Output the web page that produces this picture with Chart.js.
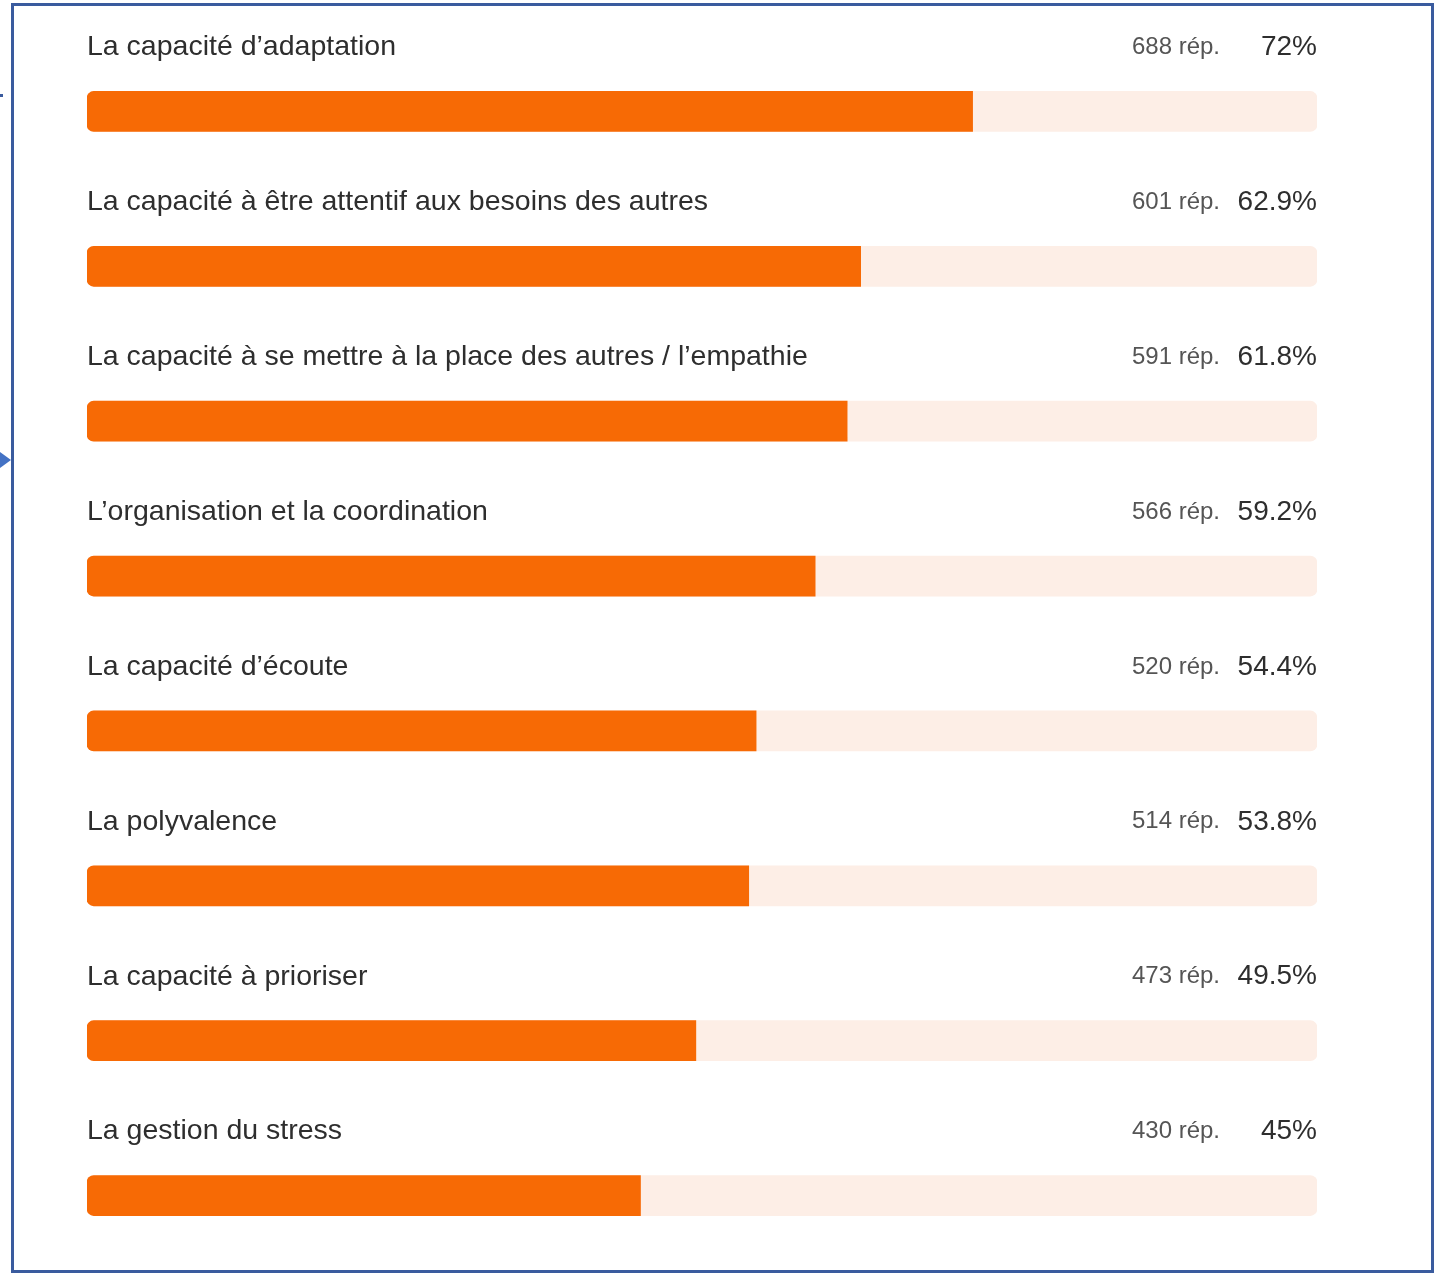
<!DOCTYPE html>
<html>
<head>
<meta charset="utf-8">
<script src="https://cdn.jsdelivr.net/npm/chart.js@4"></script>
<style>
  html, body { margin: 0; padding: 0; background: #fff; }
  body { width: 1434px; height: 1273px; position: relative; overflow: hidden; }
  #wrap { position: absolute; left: 0; top: 0; width: 1434px; height: 1273px; }
  #frame {
    position: absolute; left: 11px; top: 3px; width: 1417px; height: 1264px;
    border: 3px solid #3a5b9e; pointer-events: none;
  }
  #arrow {
    position: absolute; left: 0; top: 452px; width: 0; height: 0;
    border-top: 8px solid transparent; border-bottom: 8px solid transparent;
    border-left: 11px solid #4472c4;
  }
  #tick { position: absolute; left: 0; top: 94px; width: 3px; height: 3px; background: #3a5b9e; }
</style>
</head>
<body>
<div id="wrap"><canvas id="skills"></canvas></div>
<div id="frame"></div>
<div id="arrow"></div>
<div id="tick"></div>
<script>

const categories = [
  "La capacité d’adaptation",
  "La capacité à être attentif aux besoins des autres",
  "La capacité à se mettre à la place des autres / l’empathie",
  "L’organisation et la coordination",
  "La capacité d’écoute",
  "La polyvalence",
  "La capacité à prioriser",
  "La gestion du stress"
];
const responses = [688, 601, 591, 566, 520, 514, 473, 430];
const percents = [72, 62.9, 61.8, 59.2, 54.4, 53.8, 49.5, 45];
const trackValues = [100, 100, 100, 100, 100, 100, 100, 100];
const percentLabels = ["72%", "62.9%", "61.8%", "59.2%", "54.4%", "53.8%", "49.5%", "45%"];

const orange = "#f76a05";
const track = "#fdeee6";

// text above each bar: question on the left, answers + percent on the right
const rowText = {
  id: "rowText",
  afterDatasetsDraw(chart){
    const {ctx, chartArea, scales} = chart;
    ctx.save();
    ctx.textBaseline = "middle";
    categories.forEach((cat, i) => {
      const y = scales.y.getPixelForValue(i) - 64;
      ctx.fillStyle = "#2e2e2e";
      ctx.font = "28.5px 'Liberation Sans', Arial, sans-serif";
      ctx.textAlign = "left";
      ctx.fillText(cat, chartArea.left, y);
      ctx.font = "28px 'Liberation Sans', Arial, sans-serif";
      ctx.textAlign = "right";
      ctx.fillText(percentLabels[i], chartArea.right, y);
      ctx.fillStyle = "#555555";
      ctx.font = "24px 'Liberation Sans', Arial, sans-serif";
      ctx.fillText(responses[i] + " rép.", chartArea.right - 97, y);
    });
    ctx.restore();
  }
};

new Chart("skills", {
  type: "bar",
  data: {
    labels: categories,
    datasets: [
      {
        data: percents,
        backgroundColor: orange,
        barThickness: 40,
        grouped: false,
        borderSkipped: false,
        borderRadius: {topLeft: 7, bottomLeft: 7, topRight: 0, bottomRight: 0}
      },
      {
        data: trackValues,
        backgroundColor: track,
        barThickness: 40,
        grouped: false,
        borderSkipped: false,
        borderRadius: 7
      }
    ]
  },
  options: {
    indexAxis: "y",
    responsive: true,
    maintainAspectRatio: false,
    animation: false,
    layout: {padding: {left: 87, right: 117, top: 34, bottom: 0}},
    plugins: {legend: {display: false}, tooltip: {enabled: false}},
    scales: {
      x: {display: false, min: 0, max: 100},
      y: {display: false}
    }
  },
  plugins: [rowText]
});

</script>
</body>
</html>
